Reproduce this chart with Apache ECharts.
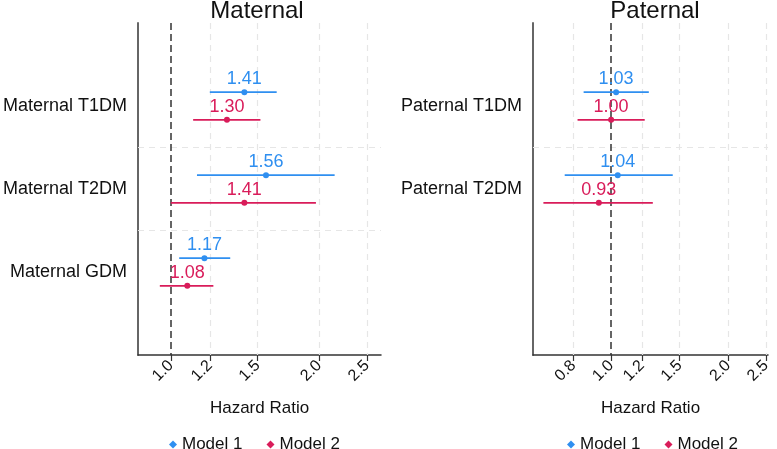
<!DOCTYPE html>
<html>
<head>
<meta charset="utf-8">
<script src="https://cdn.jsdelivr.net/npm/echarts@6/dist/echarts.min.js"></script>
<style>
  html, body { margin: 0; padding: 0; background: #fff; }
  #chart { width: 777px; height: 449px; }
</style>
</head>
<body>
<div id="chart"></div>
<script>
// 数据部分
var matCats = ['Maternal T1DM', 'Maternal T2DM', 'Maternal GDM'];
var matM1 = [1.41, 1.56, 1.17];
var matM1Lo = [1.20, 1.13, 1.04];
var matM1Hi = [1.64, 2.15, 1.32];
var matM2 = [1.30, 1.41, 1.08];
var matM2Lo = [1.11, 1.00, 0.95];
var matM2Hi = [1.52, 1.97, 1.22];

var patCats = ['Paternal T1DM', 'Paternal T2DM'];
var patM1 = [1.03, 1.04];
var patM1Lo = [0.85, 0.76];
var patM1Hi = [1.25, 1.44];
var patM2 = [1.00, 0.93];
var patM2Lo = [0.82, 0.67];
var patM2Hi = [1.22, 1.28];

var matTicks = [1.0, 1.2, 1.5, 2.0, 2.5];
var patTicks = [0.8, 1.0, 1.2, 1.5, 2.0, 2.5];

var blue = '#2f8ff0';
var red = '#d91c5a';
var off = 0.166; // model 1 上移, model 2 下移
var font = 'Liberation Sans';

var chart = echarts.init(document.getElementById('chart'));

function ciItem(params, api) {
  var y = api.value(2);
  var a = api.coord([api.value(0), y]);
  var b = api.coord([api.value(1), y]);
  return {
    type: 'line',
    shape: { x1: a[0], y1: a[1], x2: b[0], y2: b[1] },
    style: { stroke: api.visual('color'), lineWidth: 1.8 }
  };
}

function ciData(lo, hi, d) {
  return lo.map(function (v, i) { return [v, hi[i], i + 1 + d]; });
}
function ptData(hr, d) {
  return hr.map(function (v, i) { return [v, i + 1 + d]; });
}

function xAxisOpt(idx, min, max, ticks) {
  return {
    type: 'log', gridIndex: idx, min: min, max: max, position: 'bottom',
    name: 'Hazard Ratio', nameLocation: 'middle', nameGap: 45,
    nameTextStyle: { fontSize: 17, color: '#111', fontFamily: font },
    axisLine: { onZero: false, lineStyle: { color: '#333', width: 1.5 } },
    axisTick: { show: true, length: 6, customValues: ticks, lineStyle: { color: '#333', width: 1.2 } },
    axisLabel: {
      customValues: ticks, rotate: 45, margin: 8, fontSize: 16, color: '#111',
      fontFamily: font,
      formatter: function (v) { return Number(v).toFixed(1); }
    },
    splitLine: { show: false }
  };
}

function yAxisOpt(idx, cats) {
  return {
    type: 'value', gridIndex: idx, min: 0, max: 4, interval: 1, inverse: true,
    axisLine: { show: true, lineStyle: { color: '#666', width: 2 } },
    axisTick: { show: false },
    splitLine: { show: false },
    axisLabel: {
      fontSize: 18, color: '#111', margin: 11, fontFamily: font, padding: [4, 0, 0, 0],
      formatter: function (v) { return cats[v - 1] || ''; }
    }
  };
}

function gridLines(idx, ticks, seps) {
  var gl = { color: '#e6e6e6', type: [6, 5], width: 1.2 };
  var data = [];
  ticks.forEach(function (t) { if (t !== 1) data.push({ xAxis: t, lineStyle: gl }); });
  seps.forEach(function (s) { data.push({ yAxis: s, lineStyle: gl }); });
  data.push({ xAxis: 1, lineStyle: { color: '#333', type: [7, 4], width: 1.5 } });
  return {
    name: 'grid' + idx, type: 'line', xAxisIndex: idx, yAxisIndex: idx, data: [], z: 1,
    markLine: { silent: true, symbol: 'none', animation: false, z: 1, label: { show: false }, data: data }
  };
}

function ciSeries(idx, name, color, lo, hi, d) {
  return {
    name: name, type: 'custom', xAxisIndex: idx, yAxisIndex: idx,
    itemStyle: { color: color }, renderItem: ciItem,
    encode: { x: [0, 1], y: 2 }, data: ciData(lo, hi, d), z: 3
  };
}

function ptSeries(idx, name, color, hr, d) {
  return {
    name: name, type: 'scatter', xAxisIndex: idx, yAxisIndex: idx,
    symbol: 'circle', symbolSize: 6, itemStyle: { color: color, opacity: 1 }, z: 4,
    label: {
      show: true, position: 'top', distance: 1, fontSize: 18, color: color,
      fontFamily: font, textBorderWidth: 0, opacity: 1,
      formatter: function (p) { return p.value[0].toFixed(2); }
    },
    data: ptData(hr, d)
  };
}

var legendItems = [{ name: 'Model 1', icon: 'diamond' }, { name: 'Model 2', icon: 'diamond' }];
var legendText = { fontSize: 17, color: '#111', fontFamily: font };

option = {
  animation: false,
  title: [
    { text: 'Maternal', left: 252, top: -6, textAlign: 'center',
      textStyle: { fontSize: 24, fontWeight: 'normal', color: '#111', fontFamily: font } },
    { text: 'Paternal', left: 650, top: -6, textAlign: 'center',
      textStyle: { fontSize: 24, fontWeight: 'normal', color: '#111', fontFamily: font } }
  ],
  legend: [
    { data: legendItems, left: 164, top: 431, itemWidth: 8, itemHeight: 8, itemGap: 24, textStyle: legendText },
    { data: legendItems, left: 562, top: 431, itemWidth: 8, itemHeight: 8, itemGap: 24, textStyle: legendText }
  ],
  grid: [
    { left: 137, right: 396, top: 23, bottom: 94 },
    { left: 533, right: 9, top: 23, bottom: 94 }
  ],
  xAxis: [
    xAxisOpt(0, 0.858, 2.67, matTicks),
    xAxisOpt(1, 0.630, 2.53, patTicks)
  ],
  yAxis: [
    yAxisOpt(0, matCats),
    yAxisOpt(1, patCats)
  ],
  series: [
    gridLines(0, matTicks, [1.5, 2.5]),
    gridLines(1, patTicks, [1.5]),
    ciSeries(0, 'Model 1', blue, matM1Lo, matM1Hi, -off),
    ciSeries(0, 'Model 2', red, matM2Lo, matM2Hi, off),
    ptSeries(0, 'Model 1', blue, matM1, -off),
    ptSeries(0, 'Model 2', red, matM2, off),
    ciSeries(1, 'Model 1', blue, patM1Lo, patM1Hi, -off),
    ciSeries(1, 'Model 2', red, patM2Lo, patM2Hi, off),
    ptSeries(1, 'Model 1', blue, patM1, -off),
    ptSeries(1, 'Model 2', red, patM2, off)
  ]
};

chart.setOption(option);
</script>
</body>
</html>
